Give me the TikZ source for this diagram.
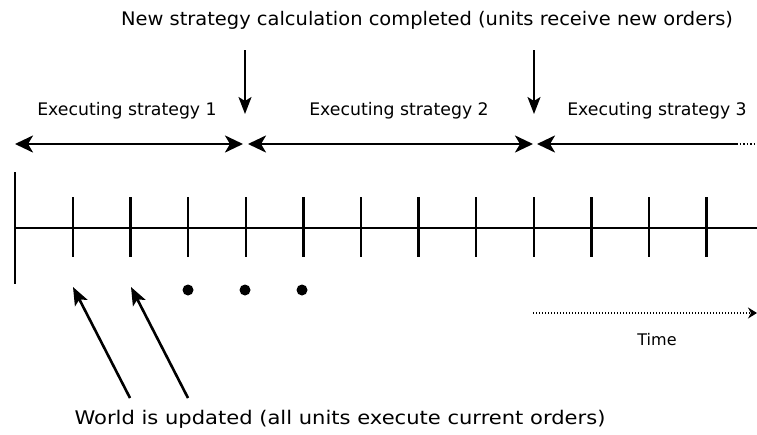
\documentclass[tikz,border=0pt]{standalone}
\usepackage{fontspec}
\setmainfont{DejaVu Sans}
\newfontfamily\topfont[FakeStretch=1.04]{DejaVu Sans}
\newfontfamily\spanfont[FakeStretch=1.0]{DejaVu Sans}
\newfontfamily\worldfont[FakeStretch=1.12]{DejaVu Sans}
\newfontfamily\timefont[FakeStretch=1.0]{DejaVu Sans}
\usetikzlibrary{arrows.meta}
\begin{document}
\begin{tikzpicture}[x=1pt,y=-1pt,
  toplbl/.style={font=\topfont\fontsize{18.7}{22}\selectfont, inner sep=0pt},
  spanlbl/.style={font=\spanfont\fontsize{17.3}{20}\selectfont, inner sep=0pt},
  worldlbl/.style={font=\worldfont\fontsize{18.8}{22}\selectfont, inner sep=0pt},
  timelbl/.style={font=\timefont\fontsize{16}{19}\selectfont, inner sep=0pt},
  axis/.style={line width=2pt},
  tick/.style={line width=2.4pt},
  span/.style={line width=2.6pt, {Stealth[length=18pt,width=17pt,inset=5pt]}-{Stealth[length=18pt,width=17pt,inset=5pt]}},
  spanopen/.style={line width=2.6pt, {Stealth[length=18pt,width=17pt,inset=5pt]}-},
  downarr/.style={line width=2pt, -{Stealth[length=17pt,width=13pt,inset=4pt]}},
  ptr/.style={line width=2.6pt, -{Stealth[length=18pt,width=14pt,inset=4pt]}},
  timearr/.style={line width=2.6pt, dash pattern=on 1.4pt off 1.6pt, -{Stealth[length=9pt,width=11pt]}},
  blob/.style={circle, fill=black, inner sep=0pt, minimum size=11pt}]
\useasboundingbox (0,0) rectangle (757,434);

% captions
\node[toplbl] (top) at (427,20) {New strategy calculation completed (units receive new orders)};
\node[spanlbl] (s1) at (127,111) {Executing strategy 1};
\node[spanlbl] (s2) at (399,111) {Executing strategy 2};
\node[spanlbl] (s3) at (657,111) {Executing strategy 3};
\node[worldlbl] (world) at (340,419) {World is updated (all units execute current orders)};
\node[timelbl] (time) at (657,340) {Time};

% time axis with its start bar
\coordinate (axL) at (14,228);
\coordinate (axR) at (757,228);
\draw[axis] (axL) -- (axR);
\coordinate (barT) at (15,172);
\coordinate (barB) at (15,284);
\draw[tick] (barT) -- (barB);

% update ticks
\foreach \i in {0,...,11} {
  \coordinate (t\i) at ({73+\i*57.6},197);
  \coordinate (b\i) at ({73+\i*57.6},257);
  \draw[tick] (t\i) -- (b\i);
}

% strategy switches
\coordinate (d1s) at (245,50);
\coordinate (d1e) at (245,114);
\coordinate (d2s) at (534,50);
\coordinate (d2e) at (534,114);
\draw[downarr] (d1s) -- (d1e);
\draw[downarr] (d2s) -- (d2e);

% strategy spans
\coordinate (a1l) at (15,144);
\coordinate (a1r) at (243,144);
\coordinate (a2l) at (248,144);
\coordinate (a2r) at (533,144);
\coordinate (a3l) at (537,144);
\coordinate (a3r) at (736,144);
\coordinate (a3e) at (757,144);
\draw[span] (a1l) -- (a1r);
\draw[span] (a2l) -- (a2r);
\draw[spanopen] (a3l) -- (a3r);
\draw[line width=2pt, dash pattern=on 1.5pt off 2pt] (a3r) -- (a3e);

% ellipsis dots
\node[blob] (p1) at (188,290) {};
\node[blob] (p2) at (245,290) {};
\node[blob] (p3) at (302,290) {};

% update pointers
\coordinate (w1) at (130,398);
\coordinate (w2) at (188,398);
\coordinate (u1) at (73,287);
\coordinate (u2) at (131,287);
\draw[ptr] (w1) -- (u1);
\draw[ptr] (w2) -- (u2);

% time direction
\coordinate (tl) at (533,313);
\coordinate (tr) at (757,313);
\draw[timearr] (tl) -- (tr);
\end{tikzpicture}
\end{document}
